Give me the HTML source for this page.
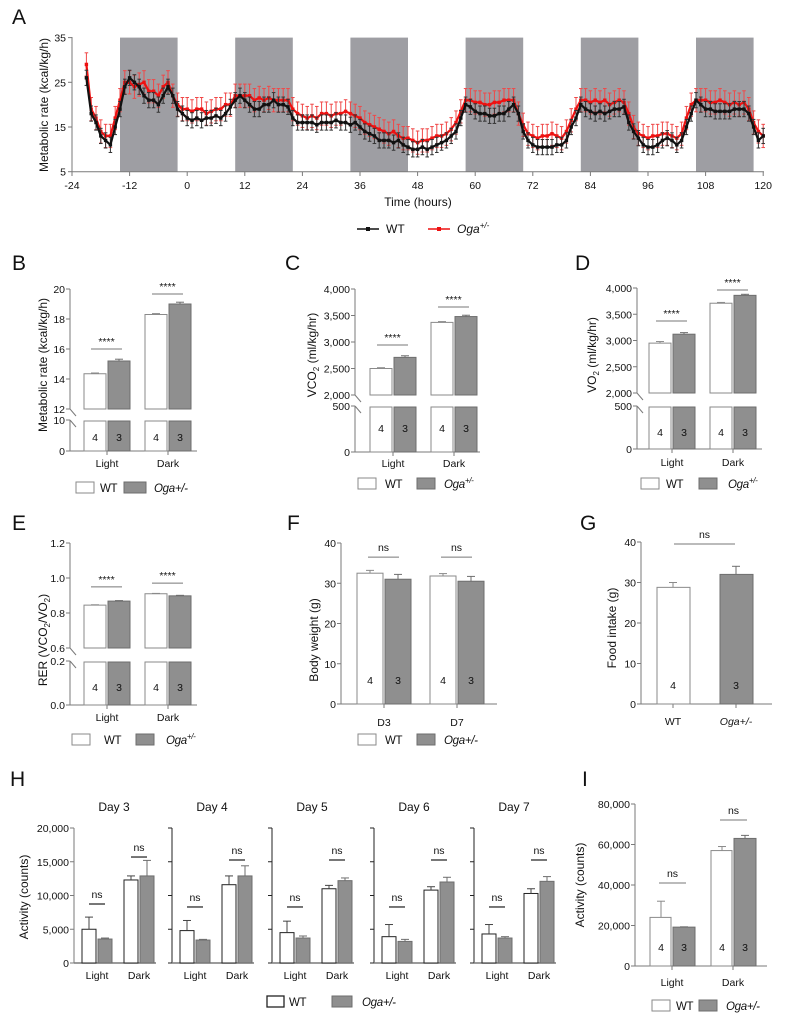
<!DOCTYPE html>
<html><head><meta charset="utf-8"><style>
body{margin:0;background:#fff}
svg{display:block}
text{font-family:"Liberation Sans",sans-serif;fill:#111}
.tk{font-family:"Liberation Sans Narrow","Liberation Sans",sans-serif;font-size:10.5px}
.ttl{font-size:12px}
.lgt{font-size:11.5px;letter-spacing:-0.3px}
.let{font-size:21px}
</style></head><body>
<svg id="fig" width="788" height="1017" viewBox="0 0 788 1017" xmlns="http://www.w3.org/2000/svg"></svg>
<script>
// ---------- Panel A data ----------
const aStartHour = -21;
const aWT = [26,18,16,13,12,11,15,19,24,26,25,24,
22,21,21,20,22,24,22,19,18,17,16.5,17,
16.5,17,17,17.5,17,18,19.5,21,22,21,20,19,
19,20,20,21,20,20,19.5,17,16,16,16,16,
15.5,16,16,16,16.5,16,16,15.5,16,15,14,13.5,
13,12,12,12,11.5,12,11,10.5,10,10,10.5,10,
10.5,11,11.5,12,13,14,17,20,19.5,18.5,18,18,
17.5,17.5,18,18,19,20,18,14,12,11,10.5,10.5,
10.5,10.5,11,11,12,15,17,20,19,18.5,18,18.5,
18,18.5,19,19,19.5,16,14,12.5,11,10.5,10.5,11,
12,12.5,12,11,12,15,18,21,20,19,19,18.5,
18.5,18.5,18.5,19,19,19,18,15,12,13];
const aOga = [29,19,17,14,13,13,17,21,25,25,24,24.5,
25,23,23,22,24,25,22,20,19,19,18.5,19,
19,18,18.5,19,19,20,20,22,22,22,22,21,
21.5,21,21.5,21,21,21,21,19,18,17.5,17,17.5,
17,18,18,17.5,18,18,18.5,18,17.5,17,16,15.5,
15,14.5,14,13.5,14,13,12.5,12.5,12,11.5,12,12,
12.5,13,13,13.5,14.5,16,18.5,21,21,20.5,20.5,20,
20,20.5,20.5,21,21,21,18,15.5,13.5,13,12.5,13,
13,13.5,13,12.5,14,16.5,19,21,21,20.5,21,20.5,
21,20,20.5,21,20.5,18,15,13.5,13,12.5,13,13,
13.5,13.5,13,12.5,13.5,17,20,21,21,21,20.5,20.5,
21,20.5,20,20.5,20,20.5,19,16,14,13];
const aWTErr = 1.7;
const aOgaErr = 2.6;
const aDarkStarts = [-14,10,34,58,82,106];
const aDarkLen = 12;
const aXTicks = [-24,-12,0,12,24,36,48,60,72,84,96,108,120];
const aYTicks = [5,15,25,35];

// ---------- Bar panel data ----------
const lightDark = ['Light','Dark'];
const bWT = [14.35,18.3], bWTErr=[0.05,0.06], bOga=[15.2,19.0], bOgaErr=[0.12,0.12];
const bSig = [16.0,19.67], bSigLbl=['****','****'];
const bTicksLow=[0,10], bTicksUp=[12,14,16,18,20];
const cWT = [2500,3370], cWTErr=[15,15], cOga=[2710,3480], cOgaErr=[30,25];
const cSig = [2943,3660], cSigLbl=['****','****'];
const cTicksLow=[0,500], cTicksUp=[2000,2500,3000,3500,4000];
const dWT = [2950,3710], dWTErr=[30,15], dOga=[3120,3860], dOgaErr=[30,20];
const dSig = [3371,3962], dSigLbl=['****','****'];
const dTicksLow=[0,500], dTicksUp=[2000,2500,3000,3500,4000];
const eWT = [0.845,0.91], eWTErr=[0.002,0.002], eOga=[0.868,0.898], eOgaErr=[0.003,0.003];
const eSig = [0.949,0.971], eSigLbl=['****','****'];
const eTicksLow=[0.0,0.2], eTicksUp=[0.6,0.8,1.0,1.2];
const fCats=['D3','D7'];
const fWT=[32.5,31.8], fWTErr=[0.7,0.6], fOga=[31.0,30.5], fOgaErr=[1.2,1.2];
const fSig=[36.5,36.5], fSigLbl=['ns','ns'];
const fTicks=[0,10,20,30,40];
const gCats=['WT','Oga+/-'];
const gVals=[28.8,32.0], gErr=[1.2,2.0];
const gSig=39.5;
const gTicks=[0,10,20,30,40];
const hDays=['Day 3','Day 4','Day 5','Day 6','Day 7'];
const hWTLight=[5000,4800,4500,3900,4300], hWTLightErr=[1800,1500,1700,1800,1400];
const hOgaLight=[3550,3400,3700,3200,3700], hOgaLightErr=[150,100,300,300,200];
const hWTDark=[12300,11600,11000,10800,10300], hWTDarkErr=[600,1300,500,500,700];
const hOgaDark=[12900,12900,12200,12000,12100], hOgaDarkErr=[2300,1500,400,700,700];
const hSigLight=[8740,8300,8300,8300,8300], hSigDark=[15700,15260,15260,15260,15260];
const hTicks=[0,5000,10000,15000,20000];
const iWT=[24000,57000], iWTErr=[8000,2000], iOga=[19200,63000], iOgaErr=[150,1500];
const iSig=[41000,72100];
const iTicks=[0,20000,40000,60000,80000];

const NS='http://www.w3.org/2000/svg';
const svg=document.getElementById('fig');
function mk(tag, attrs, parent){const e=document.createElementNS(NS,tag);for(const k in attrs)e.setAttribute(k,attrs[k]);(parent||svg).appendChild(e);return e;}
function txt(p,x,y,s,cls,anchor,extra){const t=mk('text',Object.assign({x:x,y:y,'text-anchor':anchor||'middle'},extra||{}),p);if(cls)t.setAttribute('class',cls);t.textContent=s;return t;}
function grp(){return mk('g',{});}
function fmt(v){return v.toLocaleString('en-US');}
const AX='#7a7a7a', WTS='#8a8a8a', OGF='#8f8f8f', OGS='#6e6e6e';

[['A',12,24],['B',12,270],['C',285,270],['D',575,270],['E',12,530],['F',287,530],['G',580,530],['H',10,786],['I',582,786]].forEach(l=>{
  const t=txt(svg,l[1],l[2],l[0],'let','start');
  
  
});

// ---------- Panel A ----------
(function(){
  const xA=h=>72+(h+24)*4.8, yA=v=>171.7-(v-5)*4.47;
  const g=grp();
  
  
  aDarkStarts.forEach(s=>{
    const r=mk('rect',{x:xA(s),y:yA(35),width:xA(s+aDarkLen)-xA(s),height:yA(5)-yA(35),fill:'#9e9ea3'},g);
    
    
  });
  function series(vals,err,col,ecol,name){
    const sg=mk('g',{},g);
    
    
    let d='';
    vals.forEach((v,i)=>{
      const x=xA(aStartHour+i),y=yA(v);
      const y1=yA(v+err), y2=yA(v-err);
      mk('line',{x1:x,y1:y1,x2:x,y2:y2,stroke:ecol,'stroke-width':1},sg);
      mk('line',{x1:x-1.8,y1:y1,x2:x+1.8,y2:y1,stroke:ecol,'stroke-width':1},sg);
      mk('line',{x1:x-1.8,y1:y2,x2:x+1.8,y2:y2,stroke:ecol,'stroke-width':1},sg);
      d+=(i?'L':'M')+x.toFixed(1)+' '+y.toFixed(1);
    });
    mk('path',{d:d,fill:'none',stroke:col,'stroke-width':2.2},sg);
    vals.forEach((v,i)=>{
      const m=mk('rect',{x:xA(aStartHour+i)-1.7,y:yA(v)-1.7,width:3.4,height:3.4,fill:col},sg);
      
      
    });
  }
  series(aOga,aOgaErr,'#ee1111','#f04848','oga-series');
  series(aWT,aWTErr,'#111','#333','wt-series');
  const ax=mk('g',{},g);
  
  
  mk('line',{x1:72,y1:37,x2:72,y2:172,stroke:AX},ax);
  mk('line',{x1:72,y1:171.7,x2:764,y2:171.7,stroke:AX},ax);
  aYTicks.forEach(v=>{mk('line',{x1:68,y1:yA(v),x2:72,y2:yA(v),stroke:AX},ax);txt(ax,66,yA(v)+4,String(v),'tk','end');});
  aXTicks.forEach(h=>{mk('line',{x1:xA(h),y1:171.7,x2:xA(h),y2:176,stroke:AX},ax);txt(ax,xA(h),189,String(h),'tk');});
  const xt=txt(g,418,206,'Time (hours)','ttl');
  
  
  const yt=txt(g,0,0,'Metabolic rate (kcal/kg/h)','ttl','middle',{transform:'translate(48,105) rotate(-90)'});
  
  
  const lg=mk('g',{},g);
  
  
  mk('line',{x1:357,y1:229,x2:379,y2:229,stroke:'#111','stroke-width':1.5},lg);
  mk('rect',{x:366,y:227,width:4,height:4,fill:'#111'},lg);
  txt(lg,386,233,'WT','ttl','start');
  mk('line',{x1:428,y1:229,x2:450,y2:229,stroke:'#e11','stroke-width':1.5},lg);
  mk('rect',{x:437,y:227,width:4,height:4,fill:'#e11'},lg);
  const ot=txt(lg,457,233,'Oga','ttl','start',{'font-style':'italic'});
  const sp=mk('tspan',{dy:-5,'font-size':8},ot);sp.textContent='+/-';
})();

function makeScale(segs){
  return function(v){
    for(const s of segs){ if(v>=s.v0-1e-9 && v<=s.v1+1e-9) return s.y0+(v-s.v0)/(s.v1-s.v0)*(s.y1-s.y0);}
    const last=segs[segs.length-1]; if(v>last.v1) return last.y1;
    return segs[segs.length-1].y0;
  };
}
function bar(g,segs,y,cx,w,v,fill,stroke,name){
  const bg=mk('g',{},g);
  
  
  if(segs.length===1){
    mk('rect',{x:cx,y:y(v),width:w,height:y(0)-y(v),fill:fill,stroke:stroke,'stroke-width':1},bg);
  } else {
    const lo=segs[0], up=segs[1];
    mk('rect',{x:cx,y:lo.y1+1,width:w,height:lo.y0-lo.y1-1,fill:fill,stroke:stroke,'stroke-width':1},bg);
    mk('rect',{x:cx,y:y(v),width:w,height:up.y0-y(v),fill:fill,stroke:stroke,'stroke-width':1},bg);
  }
}
function err(g,x,yv,ye,col){
  mk('line',{x1:x,y1:yv,x2:x,y2:ye,stroke:col},g);
  mk('line',{x1:x-4,y1:ye,x2:x+4,y2:ye,stroke:col},g);
}
function yaxis(g,segs,y,ax,ticksArr,labels,f){
  segs.forEach((s,i)=>{
    mk('line',{x1:ax,y1:s.y0,x2:ax,y2:s.y1,stroke:AX},g);
    ticksArr[i].forEach(v=>{mk('line',{x1:ax-4,y1:y(v),x2:ax,y2:y(v),stroke:AX},g);if(labels)txt(g,ax-5,y(v)+4,f(v),'tk','end');});
  });
  if(segs.length>1){
    mk('line',{x1:ax,y1:segs[1].y0,x2:ax+6,y2:segs[1].y0+7,stroke:AX},g);
    mk('line',{x1:ax,y1:segs[0].y1,x2:ax+6,y2:segs[0].y1+7,stroke:AX},g);
  }
}
function legend(g,y,b1,t1,b2,t2,sup,bw2){
  const lg=mk('g',{},g);
  
  
  mk('rect',{x:b1,y:y-6,width:18,height:11,fill:'#fff',stroke:WTS},lg);
  txt(lg,t1,y+4,'WT','lgt','start');
  mk('rect',{x:b2,y:y-6,width:bw2||18,height:11,fill:OGF,stroke:OGS},lg);
  const ot=txt(lg,t2,y+4,'Oga','lgt','start',{'font-style':'italic'});
  if(sup){const s=mk('tspan',{dy:-5,'font-size':8},ot);s.textContent='+/-';}
  else{const s=mk('tspan',{},ot);s.textContent='+/-';}
  return lg;
}
function sigLine(g,x1,x2,yv,label){
  const sg=mk('g',{},g);
  
  
  mk('line',{x1:x1,y1:yv,x2:x2,y2:yv,stroke:'#777'},sg);
  txt(sg,(x1+x2)/2,yv-(label==='ns'?6:4),label,'tk');
}
function grouped(cfg){
  const g=grp();
  
  
  const y=makeScale(cfg.segs);
  const y0=cfg.segs[0].y0;
  mk('line',{x1:cfg.ax,y1:y0,x2:cfg.xEnd,y2:y0,stroke:AX},g);
  cfg.cats.forEach((c,i)=>{
    const cx=cfg.cx[i];
    mk('line',{x1:cx,y1:y0,x2:cx,y2:y0+4,stroke:AX},g);
    txt(g,cx,cfg.labY,c,'tk').setAttribute('font-size','11.5');
    bar(g,cfg.segs,y,cx-cfg.w-1,cfg.w,cfg.wt[i],'#fff',WTS,'bar-wt-'+c.toLowerCase());
    bar(g,cfg.segs,y,cx+1,cfg.w,cfg.oga[i],OGF,OGS,'bar-oga-'+c.toLowerCase());
    err(g,cx-cfg.w/2-1,y(cfg.wt[i]),y(cfg.wt[i]+cfg.wtErr[i]),WTS);
    err(g,cx+cfg.w/2+1,y(cfg.oga[i]),y(cfg.oga[i]+cfg.ogaErr[i]),OGS);
    sigLine(g,cx-16,cx+15,y(cfg.sig[i]),cfg.sigLbl[i]);
    if(cfg.numY){txt(g,cx-cfg.w/2-1,cfg.numY,'4','tk');txt(g,cx+cfg.w/2+1,cfg.numY,'3','tk','middle',{fill:'#f4f4f4'});}
  });
  yaxis(g,cfg.segs,y,cfg.ax,cfg.ticks,true,cfg.fmt);
  const t=txt(g,0,0,'', 'ttl','middle',{transform:'translate('+cfg.tx+','+cfg.ty+') rotate(-90)'});
  
  
  cfg.title(t);
  legend(g,cfg.lg[0],cfg.lg[1],cfg.lg[2],cfg.lg[3],cfg.lg[4],cfg.sup,cfg.lg[5]);
  return g;
}
function plainTitle(s){return t=>{t.textContent=s;};}
function subTitle(a,sub,b,sub2,c){return t=>{const s1=mk('tspan',{},t);s1.textContent=a;const s2=mk('tspan',{dy:3,'font-size':8},t);s2.textContent=sub;const s3=mk('tspan',{dy:-3},t);s3.textContent=b;
  if(sub2){const s4=mk('tspan',{dy:3,'font-size':8},t);s4.textContent=sub2;const s5=mk('tspan',{dy:-3},t);s5.textContent=c;}};}

grouped({name:'panel-b-metabolic-rate',ax:70,xEnd:197,segs:[{v0:0,v1:10,y0:451,y1:420},{v0:12,v1:20,y0:409,y1:289}],
  cats:lightDark,cx:[107,168],w:22,wt:bWT,wtErr:bWTErr,oga:bOga,ogaErr:bOgaErr,sig:bSig,sigLbl:bSigLbl,
  numY:441,labY:467,ticks:[bTicksLow,bTicksUp],fmt:v=>String(v),tx:47,ty:365,title:plainTitle('Metabolic rate (kcal/kg/h)'),
  lg:[488,76,100,124,154,22],sup:false});
grouped({name:'panel-c-vco2',ax:355,xEnd:480,segs:[{v0:0,v1:500,y0:452,y1:406},{v0:2000,v1:4000,y0:395,y1:289}],
  cats:lightDark,cx:[393,454],w:22,wt:cWT,wtErr:cWTErr,oga:cOga,ogaErr:cOgaErr,sig:cSig,sigLbl:cSigLbl,
  numY:432,labY:467,ticks:[cTicksLow,cTicksUp],fmt:fmt,tx:316,ty:355,title:subTitle('VCO','2',' (ml/kg/hr)'),
  lg:[484,358,385,417,444],sup:true});
grouped({name:'panel-d-vo2',ax:637,xEnd:762,segs:[{v0:0,v1:500,y0:449,y1:406},{v0:2000,v1:4000,y0:393,y1:288}],
  cats:lightDark,cx:[672,733],w:22,wt:dWT,wtErr:dWTErr,oga:dOga,ogaErr:dOgaErr,sig:dSig,sigLbl:dSigLbl,
  numY:436,labY:466,ticks:[dTicksLow,dTicksUp],fmt:fmt,tx:596,ty:355,title:subTitle('VO','2',' (ml/kg/hr)'),
  lg:[484,641,666,699,728],sup:true});
grouped({name:'panel-e-rer',ax:70,xEnd:197,segs:[{v0:0,v1:0.2,y0:705,y1:661},{v0:0.6,v1:1.2,y0:648,y1:543}],
  cats:lightDark,cx:[107,168],w:22,wt:eWT,wtErr:eWTErr,oga:eOga,ogaErr:eOgaErr,sig:eSig,sigLbl:eSigLbl,
  numY:691,labY:721,ticks:[eTicksLow,eTicksUp],fmt:v=>v.toFixed(1),tx:47,ty:640,title:subTitle('RER (VCO','2','/VO','2',')'),
  lg:[740,72,104,136,166],sup:true});
grouped({name:'panel-f-body-weight',ax:341,xEnd:497,segs:[{v0:0,v1:40,y0:704,y1:543}],
  cats:fCats,cx:[384,457],w:26,wt:fWT,wtErr:fWTErr,oga:fOga,ogaErr:fOgaErr,sig:fSig,sigLbl:fSigLbl,
  numY:684,labY:726,ticks:[fTicks],fmt:v=>String(v),tx:318,ty:640,title:plainTitle('Body weight (g)'),
  lg:[740,358,385,417,444],sup:false});
// Panel G
(function(){
  const g=grp();
  
  
  const y=v=>704-v/40*162;
  mk('line',{x1:641,y1:704,x2:772,y2:704,stroke:AX},g);
  const cxs=[673,736];
  gCats.forEach((c,i)=>{
    mk('line',{x1:cxs[i],y1:704,x2:cxs[i],y2:708,stroke:AX},g);
    const r=mk('rect',{x:cxs[i]-16,y:y(gVals[i]),width:33,height:704-y(gVals[i]),fill:i?OGF:'#fff',stroke:i?OGS:WTS},g);
    
    
    err(g,cxs[i],y(gVals[i]),y(gVals[i]+gErr[i]),i?OGS:WTS);
    const lt=txt(g,cxs[i],725,c,'tk','middle',{'font-size':12});
    if(i)lt.setAttribute('font-style','italic');
    txt(g,cxs[i],689,i?'3':'4','tk','middle',i?{fill:'#f4f4f4'}:{});
  });
  sigLine(g,674,735,y(gSig),'ns');
  mk('line',{x1:641,y1:542,x2:641,y2:704,stroke:AX},g);
  gTicks.forEach(v=>{mk('line',{x1:637,y1:y(v),x2:641,y2:y(v),stroke:AX},g);txt(g,636,y(v)+4,String(v),'tk','end');});
  const t=txt(g,0,0,'Food intake (g)','ttl','middle',{transform:'translate(616,628) rotate(-90)'});
  
  
})();
// Panel H
(function(){
  const g=grp();
  
  
  const axes=[74,172,272,374,474];
  const y=v=>963-v/20000*135;
  hDays.forEach((d,i)=>{
    const sg=mk('g',{},g);
    
    
    const a=axes[i];
    mk('line',{x1:a,y1:828,x2:a,y2:963,stroke:i?'#222':AX},sg);
    mk('line',{x1:a,y1:963,x2:a+82,y2:963,stroke:AX,'stroke-width':1.5},sg);
    hTicks.forEach(v=>{mk('line',{x1:a-4,y1:y(v),x2:a,y2:y(v),stroke:i?'#222':AX},sg);if(!i)txt(sg,a-5,y(v)+4,fmt(v),'tk','end');});
    const t=txt(sg,a+40,811,d,'ttl');
    
    
    const cl=a+23, cd=a+65;
    [[cl,hWTLight[i],hWTLightErr[i],hOgaLight[i],hOgaLightErr[i],hSigLight[i],'Light'],[cd,hWTDark[i],hWTDarkErr[i],hOgaDark[i],hOgaDarkErr[i],hSigDark[i],'Dark']].forEach(q=>{
      const r1=mk('rect',{x:q[0]-15,y:y(q[1]),width:14,height:963-y(q[1]),fill:'#fff',stroke:'#222'},sg);
      
      
      const r2=mk('rect',{x:q[0]+1,y:y(q[3]),width:14,height:963-y(q[3]),fill:OGF,stroke:OGS},sg);
      
      
      err(sg,q[0]-8,y(q[1]),y(q[1]+q[2]),'#444');
      err(sg,q[0]+8,y(q[3]),y(q[3]+q[4]),OGS);
      mk('line',{x1:q[0]-8,y1:y(q[5]),x2:q[0]+8,y2:y(q[5]),stroke:'#555','stroke-width':1.6},sg);
      txt(sg,q[0],y(q[5])-6,'ns','tk');
      txt(sg,q[0],979,q[6],'tk');
    });
  });
  const t=txt(g,0,0,'Activity (counts)','ttl','middle',{transform:'translate(28,897) rotate(-90)'});
  
  
  const lg=mk('g',{},g);
  
  
  mk('rect',{x:267,y:996,width:17,height:11,fill:'#fff',stroke:'#222','stroke-width':1.3},lg);
  txt(lg,289,1006,'WT','lgt','start');
  mk('rect',{x:332,y:996,width:20,height:11,fill:OGF,stroke:OGS},lg);
  txt(lg,362,1006,'Oga+/-','lgt','start',{'font-style':'italic'});
})();
// Panel I
(function(){
  const g=grp();
  
  
  const y=v=>966-v/80000*162;
  mk('line',{x1:635,y1:966,x2:767,y2:966,stroke:AX},g);
  const cx=[672,733];
  lightDark.forEach((c,i)=>{
    mk('line',{x1:cx[i],y1:966,x2:cx[i],y2:970,stroke:AX},g);
    const r1=mk('rect',{x:cx[i]-22,y:y(iWT[i]),width:21,height:966-y(iWT[i]),fill:'#fff',stroke:WTS},g);
    
    
    const r2=mk('rect',{x:cx[i]+1,y:y(iOga[i]),width:22,height:966-y(iOga[i]),fill:OGF,stroke:OGS},g);
    
    
    err(g,cx[i]-11,y(iWT[i]),y(iWT[i]+iWTErr[i]),WTS);
    err(g,cx[i]+12,y(iOga[i]),y(iOga[i]+iOgaErr[i]),OGS);
    sigLine(g,cx[i]-13,cx[i]+14,y(iSig[i]),'ns');
    txt(g,cx[i]-11,951,'4','tk');
    txt(g,cx[i]+12,951,'3','tk','middle',{fill:'#f4f4f4'});
    txt(g,cx[i],986,c,'tk','middle',{'font-size':12});
  });
  mk('line',{x1:635,y1:804,x2:635,y2:966,stroke:AX},g);
  iTicks.forEach(v=>{mk('line',{x1:631,y1:y(v),x2:635,y2:y(v),stroke:AX},g);txt(g,630,y(v)+4,fmt(v),'tk','end');});
  const t=txt(g,0,0,'Activity (counts)','ttl','middle',{transform:'translate(584,885) rotate(-90)'});
  
  
  legend(g,1006,652,676,699,726,false);
})();
</script>
</body></html>
